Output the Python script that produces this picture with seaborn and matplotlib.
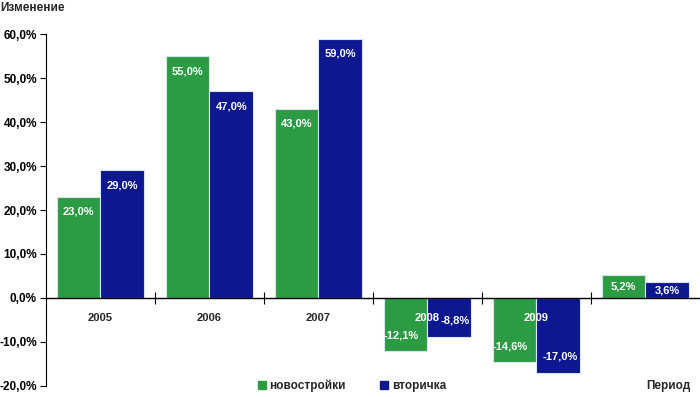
import pandas as pd
import matplotlib.pyplot as plt
import matplotlib.ticker as mticker
import seaborn as sns

# Data
periods = ["2005", "2006", "2007", "2008", "2009", " "]
series = ["новостройки", "вторичка"]
new_build = [23.0, 55.0, 43.0, -12.1, -14.6, 5.2]
secondary = [29.0, 47.0, 59.0, -8.8, -17.0, 3.6]

green = "#2c9c44"
blue = "#0c1790"

df = pd.DataFrame({
    "period": periods * 2,
    "series": [series[0]] * len(periods) + [series[1]] * len(periods),
    "value": new_build + secondary,
})

sns.set_style("white")
plt.rcParams["font.family"] = ["Liberation Sans", "DejaVu Sans"]
plt.rcParams["font.weight"] = "bold"

fs = 8.5
fs_val = 8

fig = plt.figure(figsize=(7, 3.97), dpi=100)
ax = fig.add_axes([0.0657, 0.028, 0.934, 0.886])

sns.barplot(
    data=df, x="period", y="value", hue="series",
    order=periods, hue_order=series, palette=[green, blue],
    width=0.8, edgecolor="#d8e4f0", linewidth=0.8, saturation=1,
    legend=False, ax=ax,
)
ax.set_axisbelow(False)

# Value labels inside bars (negative ones pushed apart so they clear the year label)
for i, (cont, vals) in enumerate(zip(ax.containers, [new_build, secondary])):
    for bar, v in zip(cont, vals):
        x = bar.get_x() + bar.get_width() / 2
        txt = f"{v:.1f}%".replace(".", ",")
        if abs(v) < 8:
            ax.text(x, v / 2, txt, ha="center", va="center", color="white",
                    fontsize=fs_val, fontweight="bold")
        else:
            dy = -15 if v > 0 else 16
            if v > 0:
                dx = 0
            elif i == 0:
                dx = -4
            else:
                dx = 6 if abs(v) < 10 else 2
            ax.annotate(txt, (x, v), xytext=(dx, dy), textcoords="offset pixels",
                        ha="center", va="center", color="white",
                        fontsize=fs_val, fontweight="bold")

# Axes styling
ax.set_ylim(-20, 60)
ax.set_xlim(-0.5, len(periods) - 0.5)
ax.yaxis.set_major_locator(mticker.MultipleLocator(10))
ax.yaxis.set_major_formatter(mticker.FuncFormatter(lambda v, p: f"{v:.1f}%".replace(".", ",")))
ax.tick_params(axis="y", direction="out", length=4, width=0.8, colors="black",
               labelsize=fs, left=True, pad=2.5)

for s in ["top", "right"]:
    ax.spines[s].set_visible(False)
ax.spines["left"].set_color("black")
ax.spines["left"].set_linewidth(0.8)
ax.spines["bottom"].set_position(("data", 0))
ax.spines["bottom"].set_color("black")
ax.spines["bottom"].set_linewidth(1.0)

ax.xaxis.set_minor_locator(mticker.FixedLocator([i + 0.5 for i in range(len(periods) - 1)]))
ax.tick_params(axis="x", which="major", length=0, labelsize=fs_val, pad=10.5)
ax.tick_params(axis="x", which="minor", direction="inout", length=8, width=0.8,
               colors="black", bottom=True)
for lbl in ax.get_xticklabels():
    lbl.set_fontweight("bold")
    if lbl.get_text() in ("2008", "2009"):
        lbl.set_color("white")
for lbl in ax.get_yticklabels():
    lbl.set_fontweight("bold")

ax.set_xlabel("")
ax.set_ylabel("")

# Legend
handles = [plt.Rectangle((0, 0), 1, 1, color=green), plt.Rectangle((0, 0), 1, 1, color=blue)]
leg = ax.legend(handles, series, loc="center", bbox_to_anchor=(0.468, 0.0), ncol=2,
                frameon=False, fontsize=fs, handlelength=0.7, handleheight=0.7,
                handletextpad=0.3, columnspacing=2.9)
for t in leg.get_texts():
    t.set_fontweight("bold")

fig.text(0.0, 0.98, "Изменение", ha="left", va="center", fontsize=fs, fontweight="bold")
fig.text(0.986, 0.028, "Период", ha="right", va="center", fontsize=fs, fontweight="bold")

fig.savefig("out.png", dpi=100)
